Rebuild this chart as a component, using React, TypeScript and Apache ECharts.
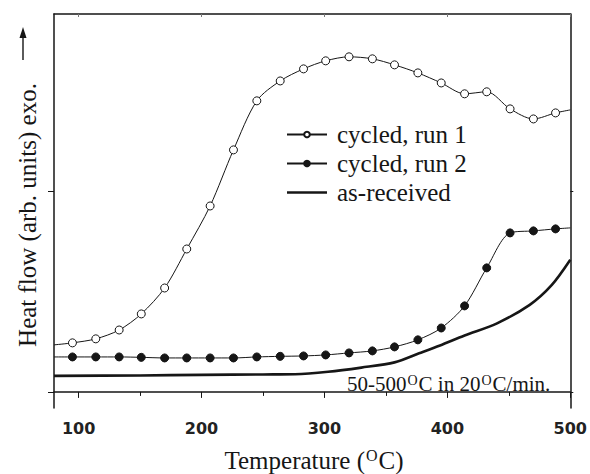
import React, { useEffect, useRef } from "react";
import * as echarts from "echarts";

// Temperatures (°C) of the marked data points
const temps = [95, 114, 133, 151, 170, 188, 207, 226, 245, 264, 283, 301, 320, 339, 357, 376, 395, 414, 432, 451, 470, 488];
// cycled, run 1 (arb. units)
const run1 = [0.244, 0.264, 0.308, 0.388, 0.517, 0.711, 0.925, 1.204, 1.448, 1.547, 1.607, 1.647, 1.667, 1.657, 1.627, 1.587, 1.537, 1.483, 1.493, 1.408, 1.358, 1.388];
const run1Edges = [0.234, 1.403];
// cycled, run 2 (arb. units)
const run2 = [0.174, 0.174, 0.174, 0.172, 0.169, 0.169, 0.169, 0.169, 0.174, 0.177, 0.179, 0.184, 0.194, 0.204, 0.224, 0.259, 0.318, 0.428, 0.617, 0.791, 0.801, 0.811];
const run2Edges = [0.174, 0.816];
// as-received (continuous trace)
const asRecT = [80, 150, 200, 250, 276, 303, 330, 357, 377, 394, 414, 440, 467, 485, 500];
const asRecY = [0.08, 0.082, 0.085, 0.087, 0.088, 0.1, 0.121, 0.147, 0.192, 0.231, 0.281, 0.34, 0.433, 0.532, 0.657];

const xTicks = [100, 200, 300, 400, 500];
const xMinorTicks = [150, 250, 350, 450];
const yTicks = [0, 1];

const SERIF = "'Liberation Serif', 'Times New Roman', serif";
const INK = "#161616";

function withEdges(vals: number[], edges: number[]) {
  const d: any[] = [{ value: [80, edges[0]], symbol: "none" }];
  temps.forEach((t, i) => d.push([t, vals[i]]));
  d.push({ value: [500, edges[1]], symbol: "none" });
  return d;
}

export default function App() {
  const ref = useRef<HTMLDivElement>(null);
  useEffect(() => {
    if (!ref.current) return;
    const chart = echarts.init(ref.current, undefined, { renderer: "svg" });
    const axisLine = { show: true, lineStyle: { color: INK, width: 1.5 } };
    chart.setOption({
      animation: false,
      backgroundColor: "#fff",
      grid: { left: 54, right: 16, top: 14, bottom: 66 },
      xAxis: [
        {
          type: "value", min: 80, max: 500, position: "bottom",
          axisLine, splitLine: { show: false },
          axisTick: { show: true, inside: false, length: 6, customValues: xTicks, lineStyle: { color: INK } },
          axisLabel: { customValues: xTicks, margin: 12, fontFamily: "'DejaVu Sans', sans-serif", fontWeight: "bold", fontSize: 16, color: "#222" },
        },
        {
          type: "value", min: 80, max: 500, position: "bottom",
          axisLine: { show: false }, splitLine: { show: false },
          axisTick: { show: true, inside: false, length: 4, customValues: xMinorTicks, lineStyle: { color: INK } },
          axisLabel: { show: false },
        },
        {
          type: "value", min: 80, max: 500, position: "top",
          axisLine, splitLine: { show: false },
          axisTick: { show: true, inside: true, length: 3, customValues: xTicks, lineStyle: { color: "#777" } },
          axisLabel: { show: false },
        },
      ],
      yAxis: [
        {
          type: "value", min: -0.08, max: 1.88, position: "left",
          axisLine, splitLine: { show: false },
          axisTick: { show: true, inside: false, length: 6, customValues: yTicks, lineStyle: { color: INK } },
          axisLabel: { show: false },
        },
        {
          type: "value", min: -0.08, max: 1.88, position: "right",
          axisLine, splitLine: { show: false },
          axisTick: { show: true, inside: false, length: 3, customValues: yTicks, lineStyle: { color: INK } },
          axisLabel: { show: false },
        },
      ],
      legend: {
        orient: "vertical", left: 281, top: 115, itemWidth: 40, itemHeight: 7, itemGap: 0,
        data: [
          { name: "cycled, run 1" },
          { name: "cycled, run 2" },
          { name: "as-received", icon: "path://M0,0 L40,0 L40,2.6 L0,2.6 Z", itemStyle: { color: INK } },
        ],
        textStyle: { fontFamily: SERIF, fontSize: 25, color: INK, lineHeight: 29, padding: [0, 0, 0, 5] },
      },
      series: [
        {
          name: "cycled, run 1", type: "line", data: withEdges(run1, run1Edges), smooth: 0.3,
          symbol: "circle", symbolSize: 8,
          lineStyle: { color: INK, width: 1 },
          itemStyle: { color: "#fff", borderColor: INK, borderWidth: 1 },
        },
        {
          name: "cycled, run 2", type: "line", data: withEdges(run2, run2Edges), smooth: 0.3,
          symbol: "circle", symbolSize: 8,
          lineStyle: { color: INK, width: 1 },
          itemStyle: { color: INK, borderColor: INK, borderWidth: 1 },
        },
        {
          name: "as-received", type: "line", data: asRecT.map((t, i) => [t, asRecY[i]]), smooth: 0.3,
          symbol: "none", showSymbol: false,
          lineStyle: { color: INK, width: 2.6 },
          itemStyle: { color: INK },
        },
      ],
      graphic: [
        {
          type: "text", x: 27, y: 215, rotation: Math.PI / 2,
          style: { text: "Heat flow (arb. units) exo.", font: `25px ${SERIF}`, fill: INK, align: "center", verticalAlign: "middle" },
        },
        { type: "line", shape: { x1: 23, y1: 60, x2: 23, y2: 35 }, style: { stroke: INK, lineWidth: 1.4 } },
        { type: "polygon", shape: { points: [[19.5, 38], [26.5, 38], [23, 27]] }, style: { fill: INK } },
        {
          type: "text", x: 314, y: 460,
          style: {
            text: "Temperature ({s|O}C)", font: `25px ${SERIF}`, fill: INK, align: "center", verticalAlign: "middle",
            rich: { s: { fontFamily: SERIF, fontSize: 16, verticalAlign: "top", padding: [0, 1, 10, 1] } },
          },
        },
        {
          type: "text", x: 347, y: 384,
          style: {
            text: "50-500{s|O}C in 20{s|O}C/min.", font: `21px ${SERIF}`, fill: INK, align: "left", verticalAlign: "middle",
            rich: { s: { fontFamily: SERIF, fontSize: 14, verticalAlign: "top", padding: [0, 1, 8, 1] } },
          },
        },
      ],
    });
    return () => chart.dispose();
  }, []);
  return <div ref={ref} style={{ width: 590, height: 474, position: "absolute", left: 0, top: 0 }} />;
}
